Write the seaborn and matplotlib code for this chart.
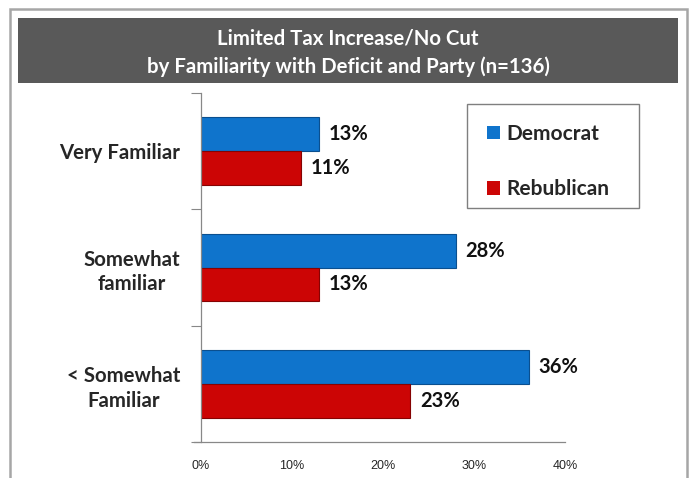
import matplotlib
matplotlib.use("Agg")
import matplotlib.pyplot as plt
import seaborn as sns
import pandas as pd
from matplotlib.patches import Rectangle
from matplotlib.ticker import FixedLocator, PercentFormatter

categories = ["Very Familiar", "Somewhat\nfamiliar", "< Somewhat\nFamiliar"]
parties = ["Democrat", "Rebublican"]
democrat = [13, 28, 36]
republican = [11, 13, 23]
x_ticks = [0, 10, 20, 30, 40]
title = "Limited Tax Increase/No Cut\nby Familiarity with Deficit and Party (n=136)"

df = pd.DataFrame({
    "Category": categories * 2,
    "Party": [parties[0]] * 3 + [parties[1]] * 3,
    "Value": democrat + republican,
})

sns.set_theme(style="white")
plt.rcParams["font.family"] = ["Lato", "DejaVu Sans"]

fig = plt.figure(figsize=(6.93, 4.78), dpi=100)
W, H = 693, 478

# outer border
fig.patches.append(Rectangle((10 / W, -0.05), 677 / W, 1 - 9 / H + 0.05,
                             transform=fig.transFigure, fill=False,
                             edgecolor="#A6A6A6", linewidth=1.8))
# title band
fig.patches.append(Rectangle((18 / W, 1 - 83 / H), 660 / W, 65 / H,
                             transform=fig.transFigure, facecolor="#595959",
                             edgecolor="none"))
fig.text(348 / W, 1 - 53 / H, title, ha="center", va="center", color="white",
         fontsize=14.7, fontweight="bold", linespacing=1.45)

ax = fig.add_axes([201 / W, 1 - 442 / H, 364 / W, 349 / H])
palette = {"Democrat": "#0F74CC", "Rebublican": "#CC0505"}
edges = {"Democrat": "#0A4F8F", "Rebublican": "#850303"}
sns.barplot(data=df, y="Category", x="Value", hue="Party", order=categories,
            hue_order=parties, palette=palette, orient="h", width=0.58,
            ax=ax, saturation=1, linewidth=0)

for cont, party in zip(ax.containers, parties):
    for bar in cont:
        bar.set_edgecolor(edges[party])
        bar.set_linewidth(0.8)
    ax.bar_label(cont, labels=[f"{v:.0f}%" for v in cont.datavalues],
                 padding=7, fontsize=14.5, fontweight="bold", color="#111111")

ax.set_xlim(0, 40)
ax.set_ylim(2.5, -0.5)
ax.set_xticks(x_ticks)
ax.xaxis.set_major_formatter(PercentFormatter(decimals=0))
ax.tick_params(axis="x", length=0, pad=13, labelsize=9)
for lab in ax.get_xticklabels():
    lab.set_fontfamily("Liberation Sans")
ax.set_yticks(range(len(categories)))
ax.set_yticklabels(categories, fontsize=14.7, fontweight="bold", ha="right",
                   multialignment="center", linespacing=1.3)
ax.tick_params(axis="y", length=0, pad=15)
ax.yaxis.set_minor_locator(FixedLocator([-0.5, 0.5, 1.5, 2.5]))
ax.tick_params(axis="y", which="minor", length=7, width=0.8, color="#888888",
               left=True)
ax.set_xlabel("")
ax.set_ylabel("")
sns.despine(ax=ax)
for s in ["left", "bottom"]:
    ax.spines[s].set_color("#888888")
    ax.spines[s].set_linewidth(0.9)
ax.spines["bottom"].set_bounds(-0.8, 40)
ax.spines["bottom"].set_clip_on(False)

# legend frame
fig.patches.append(Rectangle((467 / W, 1 - 208 / H), 172 / W, 104 / H,
                             transform=fig.transFigure, fill=False,
                             edgecolor="#7F7F7F", linewidth=1.0))
leg = ax.legend(loc="upper left", bbox_to_anchor=(487 / W, 1 - 124 / H),
                bbox_transform=fig.transFigure, frameon=False,
                borderpad=0, labelspacing=1.7, handlelength=0.6,
                handleheight=0.6, handletextpad=0.35, borderaxespad=0,
                prop={"size": 15, "weight": "bold"}, title=None)
for h, party in zip(leg.legend_handles, parties):
    h.set_edgecolor(edges[party])

fig.savefig("out.png", dpi=100)
